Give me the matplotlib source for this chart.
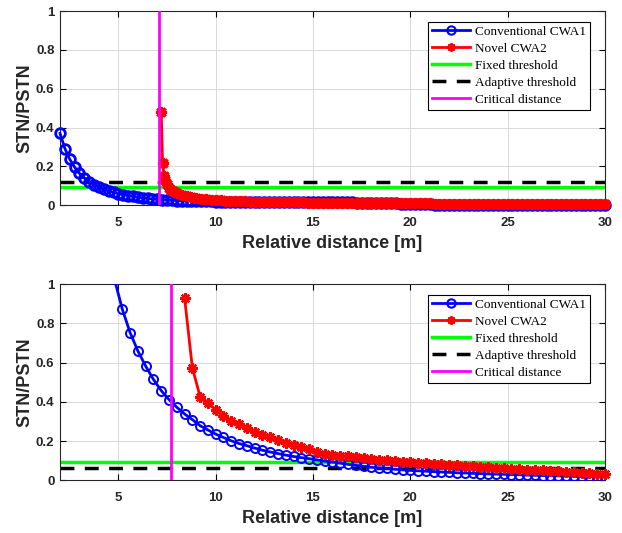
import numpy as np
import matplotlib
matplotlib.use("Agg")
import matplotlib.pyplot as plt

# ---- top panel data ----
top_x_cwa1 = np.round(np.arange(2.0, 30.1, 0.25), 2)
top_cwa1 = [
    0.370, 0.292, 0.237, 0.196, 0.164, 0.140, 0.121, 0.105, 0.093, 0.082,
    0.073, 0.066, 0.059, 0.054, 0.049, 0.045, 0.041, 0.038, 0.035, 0.032,
    0.030, 0.028, 0.026, 0.025, 0.024, 0.023, 0.022, 0.022, 0.021, 0.021,
    0.020, 0.020, 0.019, 0.019, 0.019, 0.018, 0.018, 0.018, 0.018, 0.017,
    0.017, 0.017, 0.017, 0.017, 0.016, 0.016, 0.016, 0.016, 0.016, 0.015,
    0.015, 0.015, 0.015, 0.015, 0.015, 0.014, 0.014, 0.014, 0.014, 0.014,
    0.014, 0.013, 0.013, 0.013, 0.013, 0.013, 0.013, 0.012, 0.012, 0.012,
    0.008, 0.005, 0.004, 0.004, 0.004, 0.004, 0.004, 0.003, 0.003, 0.003,
    0.003, 0.003, 0.003, 0.003, 0.003, 0.003, 0.003, 0.003, 0.003, 0.003,
    0.003, 0.003, 0.003, 0.003, 0.002, 0.002, 0.002, 0.002, 0.002, 0.002,
    0.002, 0.002, 0.002, 0.002, 0.002, 0.002, 0.002, 0.002, 0.002, 0.002,
    0.002, 0.002, 0.002,
]
top_x_cwa2 = np.concatenate([[7.2, 7.27, 7.35, 7.42, 7.5, 7.6, 7.7, 7.8, 7.9],
                             np.round(np.arange(8.0, 30.1, 0.25), 2)])
top_cwa2 = [
    0.480, 0.220, 0.150, 0.130, 0.110, 0.090, 0.080, 0.072, 0.066,
    0.062, 0.054, 0.047, 0.042, 0.037, 0.034, 0.031, 0.029, 0.027, 0.025,
    0.024, 0.023, 0.022, 0.021, 0.020, 0.019, 0.018, 0.018, 0.017, 0.017,
    0.016, 0.016, 0.015, 0.015, 0.014, 0.014, 0.014, 0.013, 0.013, 0.013,
    0.012, 0.012, 0.012, 0.012, 0.011, 0.011, 0.011, 0.011, 0.011, 0.010,
    0.010, 0.010, 0.010, 0.010, 0.010, 0.009, 0.009, 0.009, 0.009, 0.009,
    0.009, 0.009, 0.009, 0.008, 0.008, 0.008, 0.008, 0.008, 0.008, 0.008,
    0.008, 0.008, 0.008, 0.007, 0.007, 0.007, 0.007, 0.007, 0.007, 0.007,
    0.007, 0.007, 0.007, 0.007, 0.007, 0.006, 0.006, 0.006, 0.006, 0.006,
    0.006, 0.006, 0.006, 0.006, 0.006, 0.006, 0.006, 0.006, 0.006,
]
top_fixed = 0.094
top_adaptive = 0.120
top_critical = 7.08

# ---- bottom panel data ----
bot_x_cwa1 = np.round(np.arange(2.0, 30.2, 0.4), 1)
bot_cwa1 = [
    5.900, 4.100, 3.010, 2.300, 1.820, 1.475, 1.219, 1.024, 0.872, 0.753,
    0.659, 0.582, 0.514, 0.457, 0.411, 0.372, 0.338, 0.309, 0.278, 0.256,
    0.235, 0.218, 0.201, 0.187, 0.176, 0.164, 0.153, 0.144, 0.136, 0.128,
    0.121, 0.115, 0.110, 0.104, 0.098, 0.093, 0.087, 0.081, 0.076, 0.071,
    0.066, 0.063, 0.060, 0.056, 0.053, 0.050, 0.048, 0.046, 0.044, 0.042,
    0.040, 0.038, 0.037, 0.035, 0.034, 0.032, 0.031, 0.030, 0.029, 0.028,
    0.026, 0.025, 0.024, 0.023, 0.022, 0.021, 0.020, 0.019, 0.019, 0.018,
    0.017,
]
bot_x_cwa2 = np.round(np.arange(8.4, 30.2, 0.4), 1)
bot_cwa2 = [
    0.930, 0.573, 0.426, 0.392, 0.360, 0.329, 0.304, 0.285, 0.266, 0.247,
    0.232, 0.218, 0.205, 0.191, 0.179, 0.167, 0.157, 0.146, 0.136, 0.131,
    0.126, 0.121, 0.117, 0.113, 0.109, 0.105, 0.101, 0.098, 0.094, 0.091,
    0.088, 0.086, 0.083, 0.081, 0.078, 0.076, 0.073, 0.071, 0.068, 0.066,
    0.063, 0.061, 0.059, 0.057, 0.054, 0.052, 0.050, 0.047, 0.045, 0.043,
    0.040, 0.038, 0.035, 0.033, 0.030,
]
bot_fixed = 0.093
bot_adaptive = 0.063
bot_critical = 7.69

labels = ["Conventional CWA1", "Novel CWA2", "Fixed threshold",
          "Adaptive threshold", "Critical distance"]

plt.rcParams["font.family"] = ["Liberation Sans", "DejaVu Sans"]

fig = plt.figure(figsize=(6.22, 5.33), dpi=100)
ax_top = fig.add_axes([0.0965, 0.615, 0.876, 0.364])
ax_bot = fig.add_axes([0.0965, 0.099, 0.876, 0.368])

asterisk = (8, 2, 0)


def draw_panel(ax, x1, y1, x2, y2, fixed, adaptive, critical, msize, mew,
               clip1, clip2):
    ax.plot(x1, y1, color="#0000ff", lw=2, marker="o", mfc="none",
            ms=msize, mew=mew, label=labels[0], clip_on=clip1, zorder=3)
    ax.plot(x2, y2, color="#ff0000", lw=2, marker=asterisk,
            ms=msize + 1, mew=mew + 0.3, label=labels[1], clip_on=clip2,
            zorder=3)
    ax.axhline(fixed, color="#00ff00", lw=2.5, label=labels[2])
    ax.axhline(adaptive, color="black", lw=2.5, ls=(0, (4, 3)),
               label=labels[3])
    ax.axvline(critical, color="#ff00ff", lw=2, label=labels[4], zorder=4)

    ax.set_xlim(2, 30)
    ax.set_ylim(0, 1)
    ax.set_xticks([5, 10, 15, 20, 25, 30])
    ax.set_yticks([0, 0.2, 0.4, 0.6, 0.8, 1])
    ax.set_yticklabels(["0", "0.2", "0.4", "0.6", "0.8", "1"])
    ax.grid(True, color="#d9d9d9", lw=0.7)
    ax.set_axisbelow(True)
    ax.tick_params(direction="in", top=True, right=True, length=4,
                   width=0.8, labelsize=9.5)
    ax.tick_params(axis="x", pad=8.5)
    ax.tick_params(axis="y", pad=4)
    for lab in ax.get_xticklabels() + ax.get_yticklabels():
        lab.set_fontweight("bold")
        lab.set_color("#262626")
    for sp in ax.spines.values():
        sp.set_linewidth(0.8)
        sp.set_color("#262626")
    ax.set_xlabel("Relative distance [m]", fontsize=13, fontweight="bold",
                  color="#262626", labelpad=4)
    ax.set_ylabel("STN/PSTN", fontsize=13, fontweight="bold",
                  color="#262626", labelpad=2)
    leg = ax.legend(loc="upper right", bbox_to_anchor=(0.972, 0.945),
                    prop={"family": "Liberation Serif", "size": 9.5},
                    frameon=True, fancybox=False, edgecolor="black",
                    framealpha=1, borderpad=0.3, labelspacing=0.36,
                    handlelength=2.9, handletextpad=0.35, borderaxespad=0)
    leg.set_zorder(10)
    leg.get_frame().set_linewidth(0.8)
    for h in leg.legend_handles[:2]:
        h.set_markersize(6)
        h.set_markeredgewidth(1.5)


draw_panel(ax_top, top_x_cwa1, top_cwa1, top_x_cwa2, top_cwa2,
           top_fixed, top_adaptive, top_critical, 7, 2, False, False)
draw_panel(ax_bot, bot_x_cwa1, bot_cwa1, bot_x_cwa2, bot_cwa2,
           bot_fixed, bot_adaptive, bot_critical, 6.5, 1.4, True, False)

fig.savefig("out.png", dpi=100)
